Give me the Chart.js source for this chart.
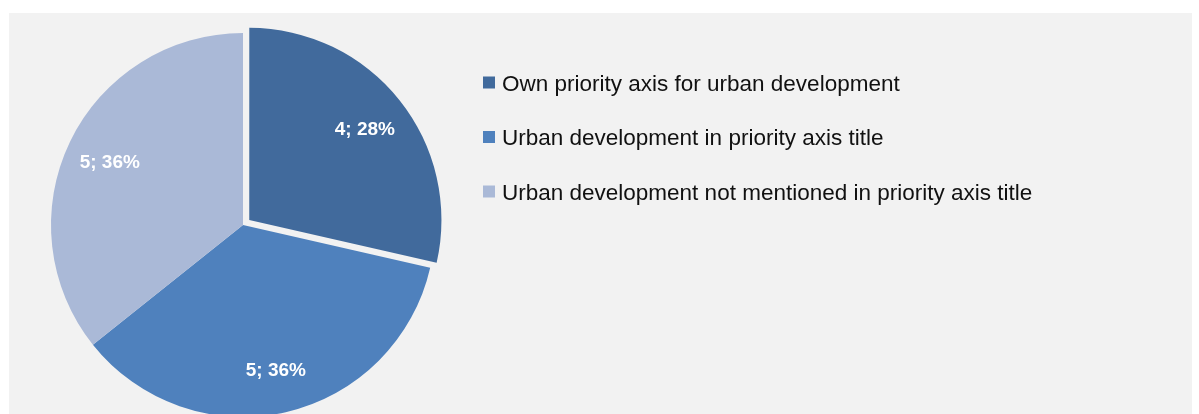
<!DOCTYPE html>
<html>
<head>
<meta charset="utf-8">
<script src="https://cdn.jsdelivr.net/npm/chart.js@4"></script>
<style>
  html, body { margin: 0; padding: 0; background: #ffffff; overflow: hidden; }
  #bg { position: absolute; left: 9px; top: 13px; width: 1183px; height: 401px; background: #f2f2f2; }
  #c { position: absolute; left: 0; top: 0; }
</style>
</head>
<body>
<div id="bg"></div>
<canvas id="c" width="1199" height="414"></canvas>
<script>
const categories = [
  "Own priority axis for urban development",
  "Urban development in priority axis title",
  "Urban development not mentioned in priority axis title"
];
const seriesValues = [4, 5, 5];
const percentLabels = ["28%", "36%", "36%"];
const sliceColors = ["#416a9c", "#4f81bd", "#aab9d7"];

const FONT = '"Liberation Sans", Arial, sans-serif';

const sliceLabelPlugin = {
  id: 'sliceLabels',
  afterDatasetsDraw(chart) {
    const ctx = chart.ctx;
    const meta = chart.getDatasetMeta(0);
    const ds = chart.data.datasets[0];
    ctx.save();
    const fs = 19;
    ctx.font = 'bold ' + fs + 'px ' + FONT;
    ctx.fillStyle = '#ffffff';
    ctx.textAlign = 'center';
    ctx.textBaseline = 'alphabetic';
    meta.data.forEach((arc, i) => {
      const p = arc.getProps(['x', 'y', 'startAngle', 'endAngle', 'outerRadius'], true);
      const mid = (p.startAngle + p.endAngle) / 2;
      const off = (arc.options.offset || 0) / 4;
      const cx = p.x + Math.cos(mid) * off;
      const cy = p.y + Math.sin(mid) * off;
      const r = p.outerRadius * 0.77;
      const lx = cx + Math.cos(mid) * r;
      const ly = cy + Math.sin(mid) * r;
      const txt = ds.data[i] + '; ' + percentLabels[i];
      ctx.fillText(txt, lx, ly + 0.716 * fs / 2);
    });
    ctx.restore();
  }
};

const legendPlugin = {
  id: 'sideLegend',
  afterDraw(chart) {
    const ctx = chart.ctx;
    const labels = chart.data.labels;
    const colors = chart.data.datasets[0].backgroundColor;
    const fs = 22.5;
    const x0 = 483, box = 12, textX = 502, y0 = 82.5, step = 54.5;
    ctx.save();
    ctx.font = fs + 'px ' + FONT;
    ctx.textAlign = 'left';
    ctx.textBaseline = 'alphabetic';
    labels.forEach((lab, i) => {
      const cy = y0 + i * step;
      ctx.fillStyle = colors[i];
      ctx.fillRect(x0, cy - box / 2, box, box);
      ctx.fillStyle = '#111111';
      ctx.fillText(lab, textX, cy + 0.716 * fs / 2);
    });
    ctx.restore();
  }
};

new Chart(document.getElementById('c'), {
  type: 'pie',
  data: {
    labels: categories,
    datasets: [{
      data: seriesValues,
      backgroundColor: sliceColors,
      borderWidth: 0,
      offset: [32, 0, 0],
      hoverOffset: 0,
      radius: 192,
      clip: false
    }]
  },
  options: {
    responsive: false,
    animation: false,
    events: [],
    devicePixelRatio: 1,
    layout: { padding: { left: 43, right: 756, top: 36, bottom: 0 } },
    plugins: {
      legend: { display: false },
      tooltip: { enabled: false },
      title: { display: false }
    }
  },
  plugins: [sliceLabelPlugin, legendPlugin]
});
</script>
</body>
</html>
